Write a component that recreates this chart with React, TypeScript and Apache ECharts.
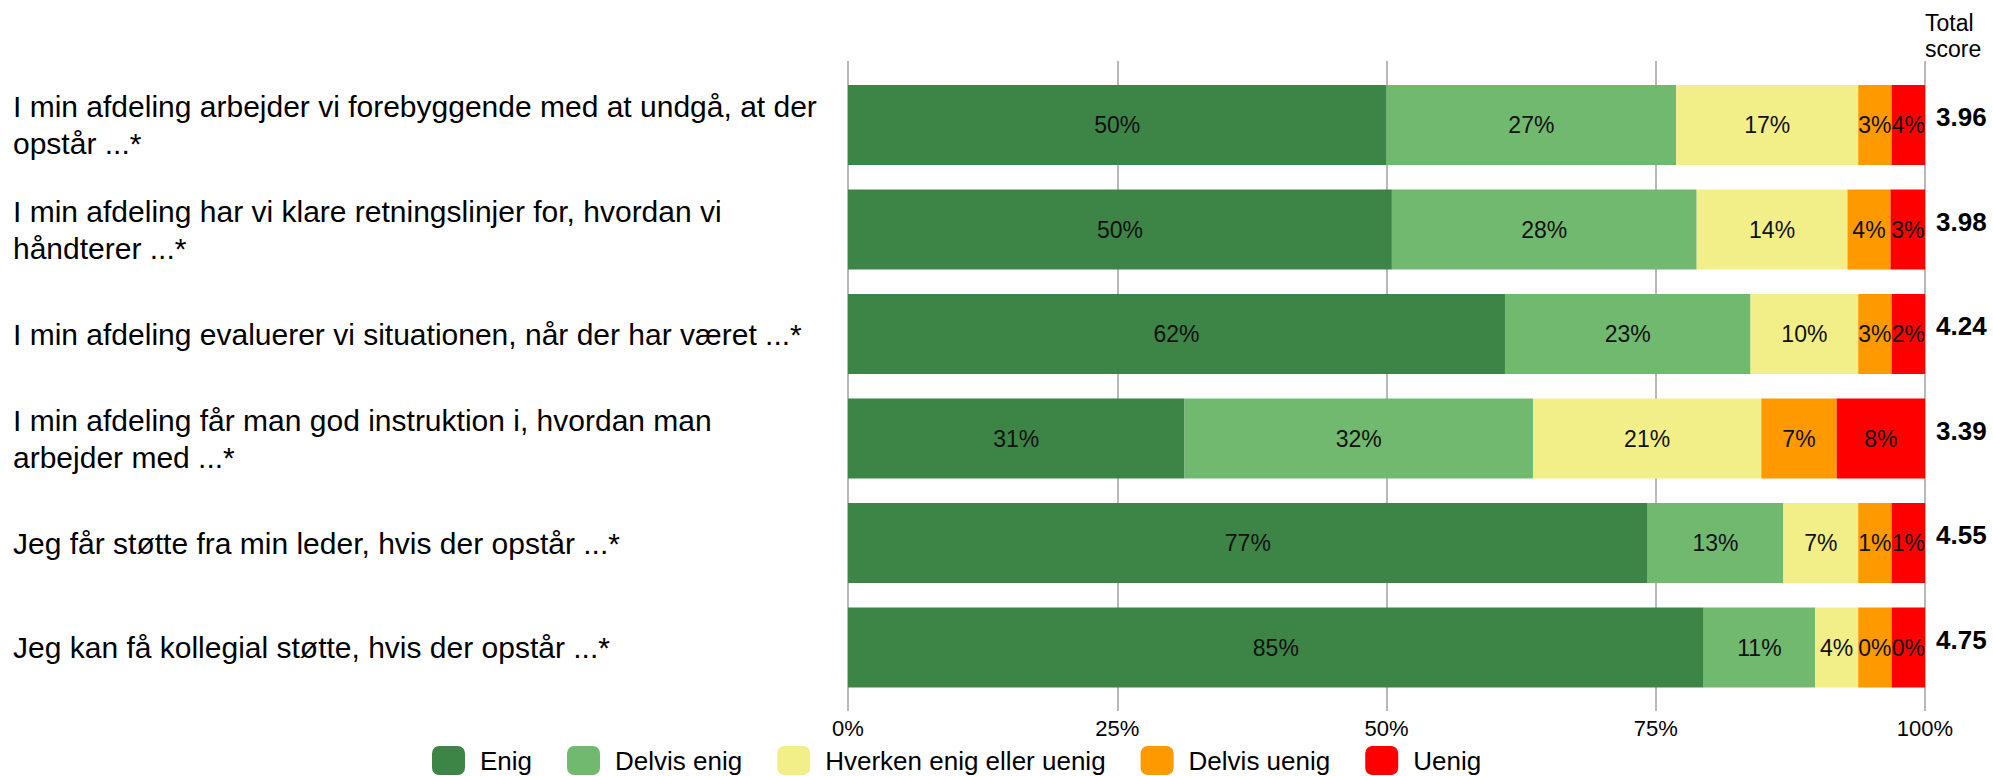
import React, { useEffect, useRef } from "react";
import * as echarts from "echarts";

const categories = [
  "I min afdeling arbejder vi forebyggende med at undgå, at der\nopstår ...*",
  "I min afdeling har vi klare retningslinjer for, hvordan vi\nhåndterer ...*",
  "I min afdeling evaluerer vi situationen, når der har været ...*",
  "I min afdeling får man god instruktion i, hvordan man\narbejder med ...*",
  "Jeg får støtte fra min leder, hvis der opstår ...*",
  "Jeg kan få kollegial støtte, hvis der opstår ...*",
];

const seriesNames = ["Enig", "Delvis enig", "Hverken enig eller uenig", "Delvis uenig", "Uenig"];
const seriesColors = ["#3D8447", "#70B96F", "#F3EF88", "#FF9900", "#FF0000"];

// Displayed segment widths (as drawn, in % of the bar)
const enigWidth = [50.0, 50.5, 61.0, 31.25, 74.25, 79.45];
const delvisEnigWidth = [26.9, 28.3, 22.8, 32.35, 12.6, 10.35];
const hverkenWidth = [16.9, 14.0, 10.0, 21.2, 6.95, 4.0];
const delvisUenigWidth = [3.1, 4.0, 3.1, 7.0, 3.1, 3.1];
const uenigWidth = [3.1, 3.2, 3.1, 8.2, 3.1, 3.1];

// Printed percentages
const enigPct = [50, 50, 62, 31, 77, 85];
const delvisEnigPct = [27, 28, 23, 32, 13, 11];
const hverkenPct = [17, 14, 10, 21, 7, 4];
const delvisUenigPct = [3, 4, 3, 7, 1, 0];
const uenigPct = [4, 3, 2, 8, 1, 0];

const totalScore = ["3.96", "3.98", "4.24", "3.39", "4.55", "4.75"];
const axisTicks = [0, 25, 50, 75, 100];

const FONT = "'Liberation Sans', Arial, sans-serif";

export default function App() {
  const ref = useRef<HTMLDivElement>(null);

  useEffect(() => {
    if (!ref.current) return;
    const chart = echarts.init(ref.current, null, { renderer: "svg" });
    const widths = [enigWidth, delvisEnigWidth, hverkenWidth, delvisUenigWidth, uenigWidth];
    const pcts = [enigPct, delvisEnigPct, hverkenPct, delvisUenigPct, uenigPct];

    const barSeries = seriesNames.map((name, i) => ({
      name,
      type: "bar",
      stack: "total",
      xAxisIndex: 0,
      yAxisIndex: 0,
      barWidth: 80,
      data: widths[i],
      itemStyle: { color: seriesColors[i] },
      label: {
        show: true,
        position: "inside",
        fontSize: 23,
        color: "#111",
        fontFamily: FONT,
        formatter: (p: any) => pcts[i][p.dataIndex] + "%",
      },
      silent: true,
    }));

    const scoreSeries = {
      name: "Total score",
      type: "bar",
      xAxisIndex: 0,
      yAxisIndex: 0,
      barWidth: 80,
      barGap: "-100%",
      data: totalScore.map(() => 100),
      itemStyle: { color: "rgba(0,0,0,0)" },
      silent: true,
      z: 1,
      label: {
        show: true,
        position: "right",
        distance: 11,
        offset: [0, -8],
        fontSize: 26,
        fontWeight: "bold",
        color: "#000",
        fontFamily: FONT,
        formatter: (p: any) => totalScore[p.dataIndex],
      },
    };

    chart.setOption({
      animation: false,
      textStyle: { fontFamily: FONT },
      title: {
        text: "Total\nscore",
        left: 1925,
        top: 10,
        padding: 0,
        textStyle: { fontSize: 23, fontWeight: "normal", color: "#000", lineHeight: 26, fontFamily: FONT },
      },
      legend: {
        data: seriesNames,
        icon: "roundRect",
        itemWidth: 33,
        itemHeight: 29,
        itemGap: 35,
        left: 432,
        top: 746,
        padding: 0,
        textStyle: { fontSize: 26, color: "#000", fontFamily: FONT, padding: [0, 0, 0, 10] },
        selectedMode: false,
      },
      grid: [
        { left: 848, right: 68, top: 72.75, bottom: 76.25 },
        { left: 848, right: 68, top: 61, bottom: 65 },
      ],
      xAxis: [
        { type: "value", gridIndex: 0, min: 0, max: 100, show: false },
        {
          type: "value",
          gridIndex: 1,
          min: axisTicks[0],
          max: axisTicks[axisTicks.length - 1],
          interval: 25,
          axisLine: { show: false },
          axisTick: { show: false },
          splitLine: { show: true, lineStyle: { color: "#a0a0a0", width: 1.5 } },
          axisLabel: { formatter: "{value}%", fontSize: 22, color: "#000", margin: 6, fontFamily: FONT },
        },
      ],
      yAxis: [
        {
          type: "category",
          gridIndex: 0,
          inverse: true,
          data: categories,
          axisLine: { show: false },
          axisTick: { show: false },
          axisLabel: {
            align: "left",
            margin: 835,
            fontSize: 30,
            lineHeight: 37,
            color: "#000",
            fontFamily: FONT,
          },
        },
        { type: "category", gridIndex: 1, data: [""], show: false },
      ],
      series: [...barSeries, scoreSeries],
    });
    return () => chart.dispose();
  }, []);

  return (
    <div
      ref={ref}
      style={{ position: "fixed", left: 0, top: 0, width: 1993, height: 776, background: "#fff" }}
    />
  );
}
